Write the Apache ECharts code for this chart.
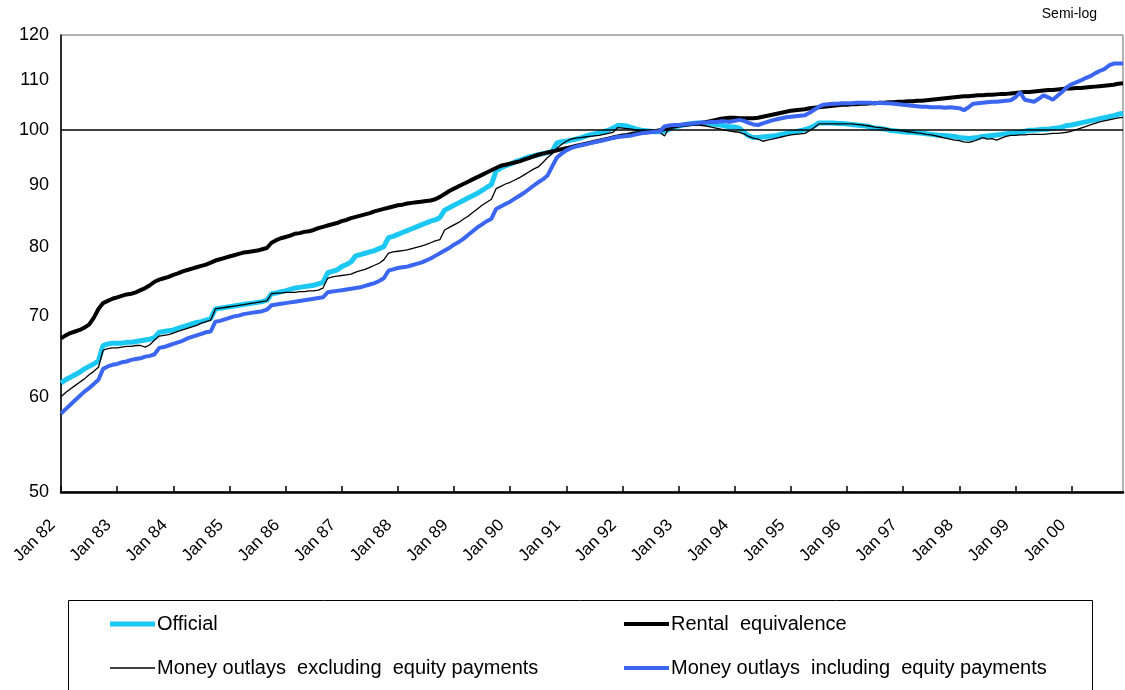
<!DOCTYPE html>
<html>
<head>
<meta charset="utf-8">
<script src="https://cdn.jsdelivr.net/npm/echarts@6/dist/echarts.min.js"></script>
<style>
  * { margin: 0; padding: 0; }
  #main { width: 1125px; height: 690px; background: #fff; }
</style>
</head>
<body>
<div id="main"></div>
<script>
// monthly, Jan 82 .. Dec 00
var years = ['82','83','84','85','86','87','88','89','90','91','92','93','94','95','96','97','98','99','00'];
var months = ['Jan','Feb','Mar','Apr','May','Jun','Jul','Aug','Sep','Oct','Nov','Dec'];
var yTicks = [50, 60, 70, 80, 90, 100, 110, 120];

var official = [
  61.6,62.0,62.3,62.6,62.9,63.3,63.6,63.9,64.3,66.2,66.4,66.5,
  66.5,66.5,66.6,66.6,66.7,66.8,66.9,67.0,67.2,67.9,68.0,68.1,
  68.2,68.4,68.6,68.8,69.0,69.2,69.3,69.5,69.7,71.0,71.1,71.2,
  71.3,71.4,71.5,71.6,71.7,71.8,71.9,72.0,72.2,73.1,73.2,73.4,
  73.5,73.7,73.9,74.0,74.1,74.2,74.3,74.5,74.7,76.1,76.3,76.5,
  77.0,77.3,77.7,78.6,78.8,79.0,79.2,79.4,79.7,80.0,81.4,81.6,
  81.9,82.2,82.5,82.8,83.1,83.4,83.7,84.0,84.2,84.6,85.8,86.2,
  86.6,87.0,87.4,87.8,88.2,88.6,89.1,89.6,90.1,92.5,93.0,93.4,
  93.7,94.1,94.4,94.7,95.0,95.2,95.4,95.6,95.8,96.0,97.6,97.8,
  97.9,98.1,98.3,98.5,98.8,99.1,99.3,99.5,99.7,100.0,100.4,100.9,
  100.9,100.8,100.5,100.2,100.0,99.9,99.8,99.7,99.7,99.8,100.2,100.6,
  100.8,101.0,101.2,101.3,101.4,101.4,101.3,101.2,101.1,101.0,100.8,100.6,
  100.6,100.4,99.6,98.9,98.6,98.6,98.7,98.8,98.9,99.0,99.2,99.4,
  99.6,99.7,99.9,100.1,100.4,100.8,101.4,101.4,101.4,101.4,101.3,101.3,
  101.2,101.1,101.0,100.9,100.8,100.6,100.4,100.3,100.2,100.0,99.9,99.8,
  99.7,99.6,99.6,99.5,99.4,99.3,99.2,99.1,99.0,99.0,98.9,98.8,
  98.6,98.5,98.4,98.5,98.6,98.8,98.9,99.0,99.1,99.2,99.3,99.4,
  99.5,99.6,99.8,100.0,100.0,100.1,100.2,100.2,100.3,100.4,100.6,100.9,
  101.0,101.2,101.4,101.6,101.8,102.0,102.2,102.4,102.6,102.8,103.1,103.3
];
var rental = [
  67.1,67.5,67.8,68.0,68.2,68.5,68.9,69.8,71.0,71.8,72.1,72.4,
  72.6,72.8,73.0,73.1,73.3,73.6,73.9,74.3,74.8,75.1,75.3,75.5,
  75.8,76.0,76.3,76.5,76.7,76.9,77.1,77.3,77.6,77.9,78.1,78.3,
  78.5,78.7,78.9,79.1,79.2,79.3,79.4,79.6,79.8,80.6,81.0,81.3,
  81.5,81.7,82.0,82.1,82.3,82.4,82.6,82.9,83.1,83.3,83.5,83.7,
  84.0,84.2,84.5,84.7,84.9,85.1,85.3,85.6,85.8,86.0,86.2,86.4,
  86.6,86.7,86.9,87.0,87.1,87.2,87.3,87.4,87.6,88.0,88.5,89.0,
  89.4,89.8,90.2,90.6,91.0,91.4,91.8,92.2,92.6,93.0,93.4,93.6,
  93.8,94.0,94.2,94.5,94.8,95.1,95.4,95.6,95.8,96.0,96.2,96.4,
  96.6,96.8,97.0,97.2,97.4,97.6,97.8,98.0,98.2,98.4,98.6,98.8,
  99.0,99.1,99.3,99.4,99.5,99.6,99.7,99.8,100.0,100.2,100.5,100.7,
  100.9,101.0,101.1,101.2,101.3,101.4,101.6,101.8,102.0,102.2,102.3,102.4,
  102.4,102.3,102.3,102.3,102.3,102.4,102.6,102.8,103.0,103.2,103.4,103.6,
  103.8,103.9,104.0,104.1,104.3,104.4,104.5,104.6,104.7,104.8,104.9,105.0,
  105.0,105.1,105.1,105.2,105.2,105.3,105.3,105.4,105.4,105.5,105.5,105.6,
  105.6,105.7,105.7,105.8,105.8,105.9,106.0,106.1,106.2,106.3,106.4,106.5,
  106.6,106.7,106.7,106.8,106.9,106.9,107.0,107.0,107.1,107.2,107.2,107.3,
  107.4,107.5,107.6,107.6,107.7,107.8,107.9,108.0,108.0,108.1,108.2,108.3,
  108.3,108.4,108.4,108.5,108.6,108.7,108.8,108.9,109.0,109.1,109.3,109.4
];
var outlaysExcl = [
  60.0,60.5,60.9,61.3,61.7,62.1,62.6,63.0,63.5,65.6,65.8,65.9,
  65.9,66.0,66.1,66.1,66.2,66.2,66.0,66.3,66.9,67.4,67.5,67.6,
  67.8,68.0,68.2,68.4,68.6,68.8,69.1,69.3,69.5,71.0,71.1,71.2,
  71.3,71.4,71.5,71.6,71.7,71.8,71.9,72.0,72.1,73.1,73.2,73.2,
  73.3,73.3,73.3,73.4,73.4,73.5,73.5,73.6,73.9,75.3,75.5,75.6,
  75.7,75.8,75.9,76.2,76.4,76.6,76.9,77.2,77.5,78.0,79.0,79.2,
  79.3,79.4,79.5,79.7,79.9,80.1,80.3,80.6,80.9,81.1,82.6,83.0,
  83.4,83.8,84.3,84.8,85.4,86.0,86.6,87.1,87.6,89.4,89.8,90.2,
  90.5,90.9,91.3,91.8,92.3,92.8,93.2,94.0,94.9,95.6,96.6,97.3,
  97.9,98.3,98.5,98.6,98.7,98.8,98.9,99.0,99.2,99.4,99.6,100.5,
  100.4,100.3,100.2,100.0,99.9,99.8,99.7,99.7,99.6,98.9,100.5,100.6,
  100.7,100.8,100.9,101.0,101.0,100.9,100.8,100.6,100.4,100.2,100.0,99.8,
  99.7,99.6,99.3,98.8,98.5,98.3,97.9,98.1,98.3,98.5,98.7,98.9,
  99.1,99.2,99.3,99.4,99.9,100.5,101.2,101.2,101.2,101.2,101.2,101.2,
  101.2,101.2,101.1,101.0,100.9,100.8,100.6,100.5,100.4,100.2,100.0,99.9,
  99.8,99.7,99.6,99.5,99.4,99.2,99.1,98.9,98.7,98.5,98.3,98.1,
  98.0,97.8,97.7,97.9,98.2,98.6,98.3,98.4,98.1,98.5,98.8,99.0,
  99.0,99.1,99.1,99.2,99.2,99.2,99.2,99.3,99.4,99.4,99.5,99.6,
  99.8,100.1,100.4,100.7,101.0,101.3,101.6,101.8,102.0,102.2,102.4,102.5
];
var outlaysIncl = [
  58.1,58.6,59.1,59.6,60.1,60.6,61.0,61.5,62.0,63.3,63.6,63.8,
  63.9,64.1,64.2,64.4,64.5,64.6,64.8,64.9,65.1,65.9,66.0,66.2,
  66.4,66.6,66.8,67.1,67.3,67.5,67.7,67.9,68.0,69.3,69.4,69.6,
  69.8,70.0,70.1,70.3,70.4,70.5,70.6,70.7,70.9,71.5,71.6,71.7,
  71.8,71.9,72.0,72.1,72.2,72.3,72.4,72.5,72.6,73.3,73.4,73.5,
  73.6,73.7,73.8,73.9,74.0,74.2,74.4,74.6,74.9,75.3,76.4,76.6,
  76.8,76.9,77.0,77.2,77.4,77.6,77.9,78.2,78.6,79.0,79.4,79.8,
  80.3,80.7,81.2,81.8,82.4,83.0,83.5,84.0,84.4,86.0,86.4,86.8,
  87.2,87.7,88.2,88.7,89.3,89.9,90.5,91.0,91.7,93.3,94.9,95.6,
  96.2,96.6,96.9,97.1,97.3,97.5,97.7,97.9,98.1,98.3,98.5,98.7,
  98.8,98.9,99.0,99.2,99.4,99.5,99.6,99.7,99.8,100.7,100.9,101.0,
  101.0,101.1,101.2,101.3,101.4,101.5,101.5,101.6,101.6,101.7,101.7,101.6,
  101.8,102.0,101.8,101.4,101.1,101.0,101.3,101.6,101.9,102.1,102.3,102.5,
  102.6,102.7,102.8,102.9,103.4,104.0,104.6,105.0,105.1,105.2,105.2,105.3,
  105.3,105.3,105.4,105.4,105.4,105.4,105.3,105.4,105.3,105.3,105.2,105.1,
  105.0,104.9,104.8,104.7,104.6,104.6,104.5,104.5,104.5,104.4,104.5,104.4,
  104.3,103.9,104.5,105.2,105.3,105.4,105.5,105.6,105.6,105.7,105.8,105.9,
  106.5,107.5,106.0,105.8,105.6,106.2,106.9,106.5,106.0,106.8,107.6,108.6,
  109.2,109.6,110.0,110.5,110.9,111.5,112.0,112.4,113.2,113.6,113.6,113.6
];

var names = ['Official', 'Rental  equivalence', 'Money outlays  excluding  equity payments', 'Money outlays  including  equity payments'];
var colors = ['#1BC8F3', '#000000', '#000000', '#3B66F2'];
var widths = [5, 4, 1.3, 4];

var categories = [];
years.forEach(function (y) {
  months.forEach(function (m) { categories.push(m + ' ' + y); });
});

var FONT = 'Liberation Sans, Arial, sans-serif';

function isJan(i) { return i % 12 === 0; }

function legendFor(name, left, top, h) {
  return {
    data: [name],
    left: left,
    top: top,
    icon: 'rect',
    itemWidth: 45,
    itemHeight: h,
    itemGap: 0,
    textStyle: { fontFamily: FONT, fontSize: 20, color: '#000', padding: [0, 0, 0, -3] }
  };
}

function getOption() {
  var data = [official, rental, outlaysExcl, outlaysIncl];
  var series = data.map(function (d, k) {
    var s = {
      name: names[k],
      type: 'line',
      data: d,
      symbol: 'none',
      color: colors[k],
      lineStyle: { color: colors[k], width: widths[k] },
      z: 3 + k
    };
    if (k === 0) {
      s.markLine = {
        silent: true,
        symbol: 'none',
        label: { show: false },
        lineStyle: { color: '#000', width: 1.5, type: 'solid' },
        data: [{ yAxis: 100 }]
      };
    }
    return s;
  });

  return {
    animation: false,
    backgroundColor: '#fff',
    grid: {
      left: 61, right: 2, top: 35, bottom: 198,
      show: true, borderColor: '#666', borderWidth: 1
    },
    xAxis: {
      type: 'category',
      data: categories,
      boundaryGap: false,
      axisLine: { lineStyle: { color: '#000', width: 2.5 } },
      axisTick: { inside: true, length: 6, interval: function (i) { return isJan(i); }, lineStyle: { color: '#000', width: 1.5 } },
      axisLabel: {
        interval: function (i) { return isJan(i); },
        rotate: 45, margin: 22, padding: [0, 12, 0, 0],
        fontFamily: FONT, fontSize: 17, color: '#000'
      },
      splitLine: { show: false }
    },
    yAxis: {
      type: 'log',
      logBase: 10,
      min: 50,
      max: 120,
      axisLine: { show: true, lineStyle: { color: '#000', width: 1.5 } },
      axisTick: { show: false, customValues: yTicks },
      axisLabel: { customValues: yTicks, margin: 12, fontFamily: FONT, fontSize: 18, color: '#000' },
      splitLine: { show: false }
    },
    legend: [
      legendFor(names[0], 105, 609, 5),
      legendFor(names[1], 619, 609, 4),
      legendFor(names[2], 105, 653, 1.5),
      legendFor(names[3], 619, 653, 4)
    ],
    graphic: [
      {
        type: 'rect', silent: true, z: -1,
        shape: { x: 68.5, y: 600.5, width: 1024, height: 120 },
        style: { fill: '#fff', stroke: '#000', lineWidth: 1 }
      },
      {
        type: 'text', right: 28, top: 7,
        style: { text: 'Semi-log', font: '14px ' + FONT, fill: '#000' }
      }
    ],
    series: series
  };
}

var chart = echarts.init(document.getElementById('main'));
chart.setOption(getOption());
</script>
</body>
</html>
